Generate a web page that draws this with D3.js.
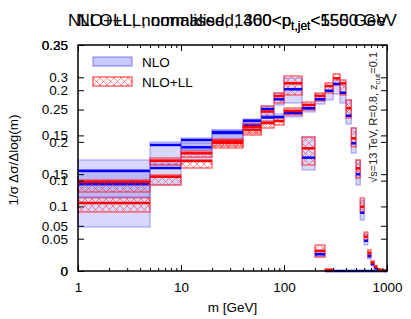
<!DOCTYPE html>
<html>
<head>
<meta charset="utf-8">
<script src="https://cdn.jsdelivr.net/npm/d3@7"></script>
<style>
body { margin: 0; background: #fff; }
text { font-family: "Liberation Sans", Arial, sans-serif; }
</style>
</head>
<body>
<svg id="chart"></svg>
<script>
var width = 411;
var height = 319;
var margin = {top: 45, right: 24, bottom: 48, left: 78};
var w = width - margin.left - margin.right;
var h = height - margin.top - margin.bottom;

// bin edges in m [GeV]
var edges = [1, 5, 10, 20, 40, 60, 80, 100, 150, 200, 250, 300, 350, 400, 450,
    500, 550, 600, 650, 700, 750, 800, 850, 900, 950, 1000];

// first plot (460<pt<550), y range 0..0.35
var nloA    = [0.1343, 0.1595, 0.1916, 0.2137, 0.2261, 0.2509, 0.2659, 0.2814, 0.1755, 0.0259,
    0, 0, 0, 0, 0, 0, 0, 0, 0, 0, 0, 0, 0, 0, 0];
var nloA_lo = [0.0681, 0.1332, 0.1750, 0.2029, 0.2184, 0.2447, 0.2571, 0.2602, 0.1564, 0.0217,
    0, 0, 0, 0, 0, 0, 0, 0, 0, 0, 0, 0, 0, 0, 0];
var nloA_hi = [0.1533, 0.1719, 0.1982, 0.2184, 0.2308, 0.2555, 0.2757, 0.2989, 0.2075, 0.0325,
    0, 0, 0, 0, 0, 0, 0, 0, 0, 0, 0, 0, 0, 0, 0];
var nllA    = [0.1053, 0.1460, 0.1704, 0.1982, 0.2184, 0.2470, 0.2710, 0.2907, 0.1900, 0.0310, 0.0015];
var nllA_lo = [0.0914, 0.1332, 0.1595, 0.1905, 0.2106, 0.2400, 0.2602, 0.2726, 0.1642, 0.0217, 0];
var nllA_hi = [0.1135, 0.1487, 0.1719, 0.2029, 0.2230, 0.2555, 0.2757, 0.3020, 0.2075, 0.0403, 0.003];

// second plot (1300<pt<1550), y range 0..0.25
var nloB    = [0.1110, 0.1394, 0.1449, 0.1534, 0.1663, 0.1698, 0.1704, 0.1748, 0.1800, 0.1899, 0.1994, 0.2069,
    0.1972, 0.1718, 0.1413, 0.1070, 0.0645, 0.0335, 0.0166, 0.0077, 0.0033, 0.0012, 0.0005, 0.0002, 0.0001];
var nloB_lo = [0.0819, 0.1173, 0.1339, 0.1449, 0.1582, 0.1648, 0.1659, 0.1704, 0.1759, 0.1847, 0.1892, 0.1958,
    0.1858, 0.1626, 0.1305, 0.0951, 0.0564, 0.0288, 0.0133, 0.0055, 0.0022, 0.0008, 0.0003, 0.0001, 0];
var nloB_hi = [0.1228, 0.1427, 0.1471, 0.1560, 0.1681, 0.1726, 0.1737, 0.1781, 0.1847, 0.1958, 0.2046, 0.2113,
    0.2058, 0.1892, 0.1582, 0.1228, 0.0785, 0.0409, 0.0210, 0.0100, 0.0044, 0.0018, 0.0008, 0.0003, 0.0002];
var nllB    = [0.0988, 0.1220, 0.1302, 0.1433, 0.1593, 0.1637, 0.1659, 0.1770, 0.1836, 0.1936, 0.2046, 0.2132,
    0.2076, 0.1800, 0.1468, 0.1136, 0.0711, 0.0379, 0.0196, 0.0092, 0.0048, 0.0019, 0.0010, 0.0005, 0.0002];
var nllB_lo = [0.0874, 0.1173, 0.1261, 0.1383, 0.1527, 0.1582, 0.1615, 0.1726, 0.1781, 0.1881, 0.1969, 0.2058,
    0.1947, 0.1693, 0.1372, 0.1029, 0.0642, 0.0332, 0.0155, 0.0072, 0.0036, 0.0012, 0.0006, 0.0003, 0.0001];
var nllB_hi = [0.1007, 0.1250, 0.1327, 0.1460, 0.1626, 0.1659, 0.1693, 0.1803, 0.1869, 0.1969, 0.2080, 0.2179,
    0.2113, 0.1892, 0.1582, 0.1228, 0.0808, 0.0431, 0.0232, 0.0111, 0.0060, 0.0026, 0.0014, 0.0007, 0.0003];

var ticksA = [0, 0.05, 0.1, 0.15, 0.2, 0.25, 0.3, 0.35];
var ticksB = [0, 0.05, 0.1, 0.15, 0.2, 0.25];
var xMajor = [1, 10, 100, 1000];
var xMinor = [2, 3, 4, 5, 6, 7, 8, 9, 20, 30, 40, 50, 60, 70, 80, 90, 200, 300, 400, 500, 600, 700, 800, 900];

var titles = ["NLO+LL, normalised, 460<p", "NLO+LL, normalised, 1300<p"];
var titleEnds = ["<550 GeV", "<1550 GeV"];

var svg = d3.select("#chart")
    .attr("width", width)
    .attr("height", height);

// crosshatch pattern for the NLO+LL bands
var pat = svg.append("defs").append("pattern")
    .attr("id", "hatch")
    .attr("patternUnits", "userSpaceOnUse")
    .attr("width", 7).attr("height", 7);
pat.append("path")
    .attr("d", "M0,0L7,7M7,0L0,7")
    .style("stroke", "rgba(255,40,40,0.5)")
    .style("stroke-width", 1);

var g = svg.append("g")
    .attr("transform", "translate(" + margin.left + "," + margin.top + ")");

var x = d3.scaleLog().domain([1, 1000]).range([0, w]);
var yA = d3.scaleLinear().domain([0, 0.35]).range([h, 0]);
var yB = d3.scaleLinear().domain([0, 0.25]).range([h, 0]);

function drawPlot(y, nlo, nloLo, nloHi, nll, nllLo, nllHi) {
    var bins = d3.range(edges.length - 1);
    var layer = g.append("g");

    // NLO band
    layer.selectAll(".nloband").data(bins.filter(function(i) { return nlo[i] != null; }))
        .enter().append("rect")
        .attr("x", function(i) { return x(edges[i]); })
        .attr("width", function(i) { return x(edges[i + 1]) - x(edges[i]); })
        .attr("y", function(i) { return y(nloHi[i]); })
        .attr("height", function(i) { return y(nloLo[i]) - y(nloHi[i]); })
        .style("fill", "rgba(40,40,255,0.18)")
        .style("stroke", "rgba(80,80,255,0.45)")
        .style("stroke-width", 1.2);

    // NLO+LL band
    layer.selectAll(".nllband").data(bins.filter(function(i) { return nll[i] != null; }))
        .enter().append("rect")
        .attr("x", function(i) { return x(edges[i]); })
        .attr("width", function(i) { return x(edges[i + 1]) - x(edges[i]); })
        .attr("y", function(i) { return y(nllHi[i]); })
        .attr("height", function(i) { return y(nllLo[i]) - y(nllHi[i]); })
        .style("fill", "url(#hatch)")
        .style("stroke", "rgba(255,40,40,0.7)")
        .style("stroke-width", 1.4);

    // central values
    layer.selectAll(".nloline").data(bins.filter(function(i) { return nlo[i] != null; }))
        .enter().append("line")
        .attr("x1", function(i) { return x(edges[i]); })
        .attr("x2", function(i) { return x(edges[i + 1]); })
        .attr("y1", function(i) { return y(nlo[i]); })
        .attr("y2", function(i) { return y(nlo[i]); })
        .style("stroke", "#0000ff")
        .style("stroke-width", 2.5);

    layer.selectAll(".nllline").data(bins.filter(function(i) { return nll[i] != null; }))
        .enter().append("line")
        .attr("x1", function(i) { return x(edges[i]); })
        .attr("x2", function(i) { return x(edges[i + 1]); })
        .attr("y1", function(i) { return y(nll[i]); })
        .attr("y2", function(i) { return y(nll[i]); })
        .style("stroke", "#ff0000")
        .style("stroke-width", 2.5);
}

drawPlot(yA, nloA, nloA_lo, nloA_hi, nllA, nllA_lo, nllA_hi);
drawPlot(yB, nloB, nloB_lo, nloB_hi, nllB, nllB_lo, nllB_hi);

// axes: ticks inward on all four sides, labels only left and bottom
function styleAxis(sel) {
    sel.select(".domain").remove();
    sel.selectAll("line").style("stroke", "#000").style("stroke-width", 1);
    sel.selectAll("text").style("font-size", "13.5px").style("fill", "#000")
        .style("font-family", "'Liberation Sans', Arial, sans-serif");
}

[[yA, ticksA], [yB, ticksB]].forEach(function(p) {
    g.append("g").call(d3.axisLeft(p[0]).tickValues(p[1]).tickFormat(String)
        .tickSize(-6).tickPadding(10)).call(styleAxis);
    g.append("g").attr("transform", "translate(" + w + ",0)")
        .call(d3.axisRight(p[0]).tickValues(p[1]).tickFormat("").tickSize(-6)).call(styleAxis);
});

g.append("g").attr("transform", "translate(0," + h + ")")
    .call(d3.axisBottom(x).tickValues(xMajor).tickFormat(String).tickSize(-6).tickPadding(11))
    .call(styleAxis);
g.append("g").attr("transform", "translate(0," + h + ")")
    .call(d3.axisBottom(x).tickValues(xMinor).tickFormat("").tickSize(-3))
    .call(styleAxis);
g.append("g")
    .call(d3.axisTop(x).tickValues(xMajor).tickFormat("").tickSize(-6))
    .call(styleAxis);
g.append("g")
    .call(d3.axisTop(x).tickValues(xMinor).tickFormat("").tickSize(-3))
    .call(styleAxis);

// frame
g.append("rect")
    .attr("width", w).attr("height", h)
    .style("fill", "none")
    .style("stroke", "#000")
    .style("stroke-width", 1.5);

// legend
var legend = g.append("g").attr("transform", "translate(15,12)");
legend.append("rect").attr("width", 39).attr("height", 9)
    .style("fill", "rgba(40,40,255,0.25)")
    .style("stroke", "rgba(80,80,255,0.6)").style("stroke-width", 1.2);
legend.append("rect").attr("y", 20).attr("width", 39).attr("height", 9)
    .style("fill", "url(#hatch)")
    .style("stroke", "rgba(255,40,40,0.75)").style("stroke-width", 1.4);
legend.append("text").attr("x", 49).attr("y", 9.5).text("NLO")
    .style("font-size", "13.5px");
legend.append("text").attr("x", 49).attr("y", 29.5).text("NLO+LL")
    .style("font-size", "13.5px");

// titles of the two overlaid plots
titles.forEach(function(t, i) {
    var txt = svg.append("text")
        .attr("x", margin.left + w / 2)
        .attr("y", 26)
        .style("text-anchor", "middle")
        .style("font-size", "17px");
    txt.append("tspan").text(t);
    txt.append("tspan").attr("dy", 4).style("font-size", "12px").text("t,jet");
    txt.append("tspan").attr("dy", -4).text(titleEnds[i]);
});

// axis titles
svg.append("text")
    .attr("transform", "translate(18," + (margin.top + h / 2 + 2) + ") rotate(-90)")
    .style("text-anchor", "middle")
    .style("font-size", "13.5px")
    .text("1/σ Δσ/Δlog(m)");

svg.append("text")
    .attr("x", margin.left + w / 2)
    .attr("y", 312)
    .style("text-anchor", "middle")
    .style("font-size", "13.5px")
    .text("m [GeV]");

// rotated label on the right
var lab = svg.append("text")
    .attr("transform", "translate(377,52) rotate(-90)")
    .style("text-anchor", "end")
    .style("font-size", "11px")
    .style("fill", "#222");
lab.append("tspan").text("√s=13 TeV, R=0.8, z");
lab.append("tspan").attr("dy", 3).style("font-size", "8px").text("cut");
lab.append("tspan").attr("dy", -3).text("=0.1");
</script>
</body>
</html>
